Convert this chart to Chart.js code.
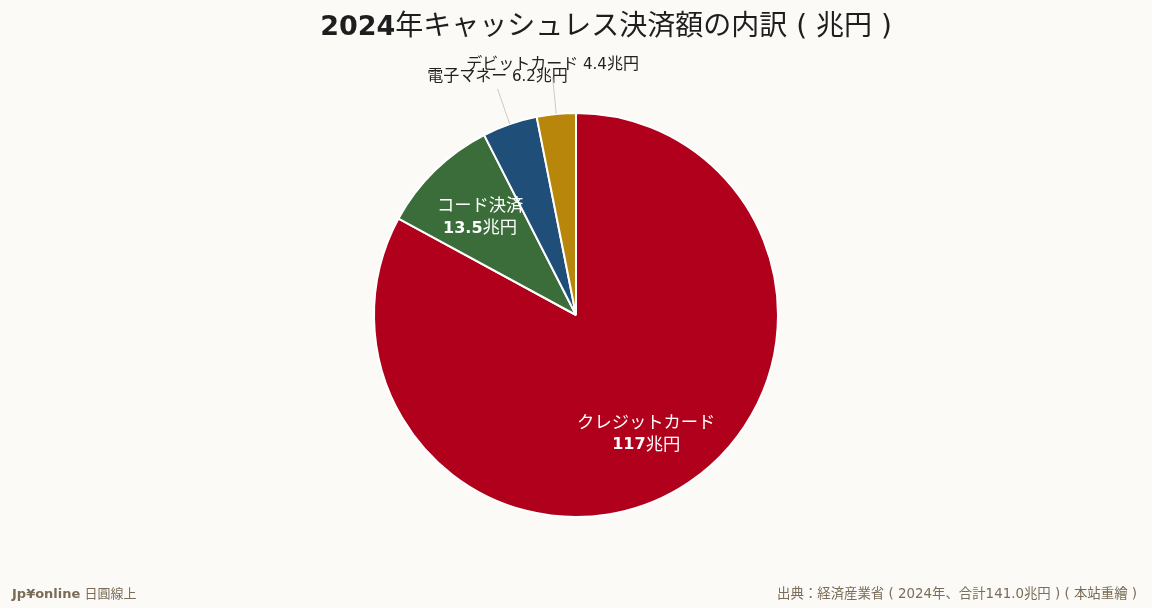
<!DOCTYPE html>
<html>
<head>
<meta charset="utf-8">
<script src="https://cdn.jsdelivr.net/npm/chart.js@4"></script>
<style>
    html, body { margin: 0; padding: 0; background: #fbfaf6; }
    #wrap { width: 1152px; height: 608px; }
</style>
</head>
<body>
<div id="wrap"><canvas id="pieChart" width="1152" height="608"></canvas></div>
<script>
const categories = ['クレジットカード', 'コード決済', '電子マネー', 'デビットカード'];
const values = [117, 13.5, 6.2, 4.4];
const valueLabels = ['117', '13.5', '6.2', '4.4'];
const colors = ['#b0001b', '#3b6d3b', '#1f4e79', '#b8860b'];
// false = label inside the slice, true = outside with a leader line
const outside = [false, false, true, true];

const titleYear = '2024';
const titleRest = '年キャッシュレス決済額の内訳 ( 兆円 )';
const sourceText = '出典：経済産業省 ( 2024年、合計141.0兆円 ) ( 本站重繪 )';

const FONT = "'DejaVu Sans', 'Noto Sans CJK JP', sans-serif";

// draws runs of [text, font] left to right starting at x
function drawRuns(ctx, runs, x, y) {
    runs.forEach(([txt, font]) => {
        ctx.font = font;
        ctx.fillText(txt, x, y);
        x += ctx.measureText(txt).width;
    });
}
function runsWidth(ctx, runs) {
    let w = 0;
    runs.forEach(([txt, font]) => { ctx.font = font; w += ctx.measureText(txt).width; });
    return w;
}

// labels on / beside each slice, placed from the arc geometry
const sliceLabels = {
    id: 'sliceLabels',
    afterDatasetsDraw(chart) {
        const ctx = chart.ctx;
        const meta = chart.getDatasetMeta(0);
        meta.data.forEach((arc, i) => {
            const mid = (arc.startAngle + arc.endAngle) / 2;
            const r = arc.outerRadius;
            ctx.save();
            ctx.textBaseline = 'middle';
            ctx.textAlign = 'left';
            if (!outside[i]) {
                const x = arc.x + Math.cos(mid) * r * 0.68;
                const y = arc.y + Math.sin(mid) * r * 0.68;
                ctx.fillStyle = '#ffffff';
                const top = [[categories[i], '17.3px ' + FONT]];
                drawRuns(ctx, top, x - runsWidth(ctx, top) / 2, y - 10);
                const bottom = [[valueLabels[i], 'bold 16px ' + FONT], ['兆円', '17.3px ' + FONT]];
                drawRuns(ctx, bottom, x - runsWidth(ctx, bottom) / 2, y + 12);
            } else {
                const x1 = arc.x + Math.cos(mid) * r;
                const y1 = arc.y + Math.sin(mid) * r;
                const x2 = arc.x + Math.cos(mid) * r * 1.185;
                const y2 = arc.y + Math.sin(mid) * r * 1.185;
                ctx.strokeStyle = '#cfcac0';
                ctx.lineWidth = 1;
                ctx.beginPath();
                ctx.moveTo(x1, y1);
                ctx.lineTo(x2, y2);
                ctx.stroke();
                ctx.fillStyle = '#222222';
                const runs = [[categories[i], '16px ' + FONT], [' ' + valueLabels[i], '15px ' + FONT], ['兆円', '16px ' + FONT]];
                drawRuns(ctx, runs, x2 - runsWidth(ctx, runs) / 2, y2 - 12);
            }
            ctx.restore();
        });
    }
};

const titleAndFooter = {
    id: 'titleAndFooter',
    afterDraw(chart) {
        const ctx = chart.ctx;
        ctx.save();
        ctx.textBaseline = 'middle';
        ctx.textAlign = 'left';

        // title: bold digits, regular Japanese
        ctx.fillStyle = '#1e1e1e';
        const title = [[titleYear, 'bold 27px ' + FONT], [titleRest, '28px ' + FONT]];
        drawRuns(ctx, title, 606 - runsWidth(ctx, title) / 2, 28);

        // footer
        ctx.fillStyle = '#7a6c58';
        drawRuns(ctx, [['Jp¥online', 'bold 13px ' + FONT], [' 日圓線上', '13px ' + FONT]], 12, 595);
        ctx.font = '13.4px ' + FONT;
        ctx.textAlign = 'right';
        ctx.fillText(sourceText, 1137, 595);
        ctx.restore();
    }
};

const chart = new Chart(document.getElementById('pieChart'), {
    type: 'pie',
    data: {
        labels: categories,
        datasets: [{
            data: values,
            backgroundColor: colors,
            borderColor: '#ffffff',
            borderWidth: 2
        }]
    },
    options: {
        responsive: false,
        animation: false,
        radius: 202,
        layout: { padding: { top: 113, bottom: 91, left: 0, right: 0 } },
        plugins: {
            legend: { display: false },
            tooltip: { enabled: false },
            title: { display: false }
        }
    },
    plugins: [sliceLabels, titleAndFooter]
});
</script>
</body>
</html>
